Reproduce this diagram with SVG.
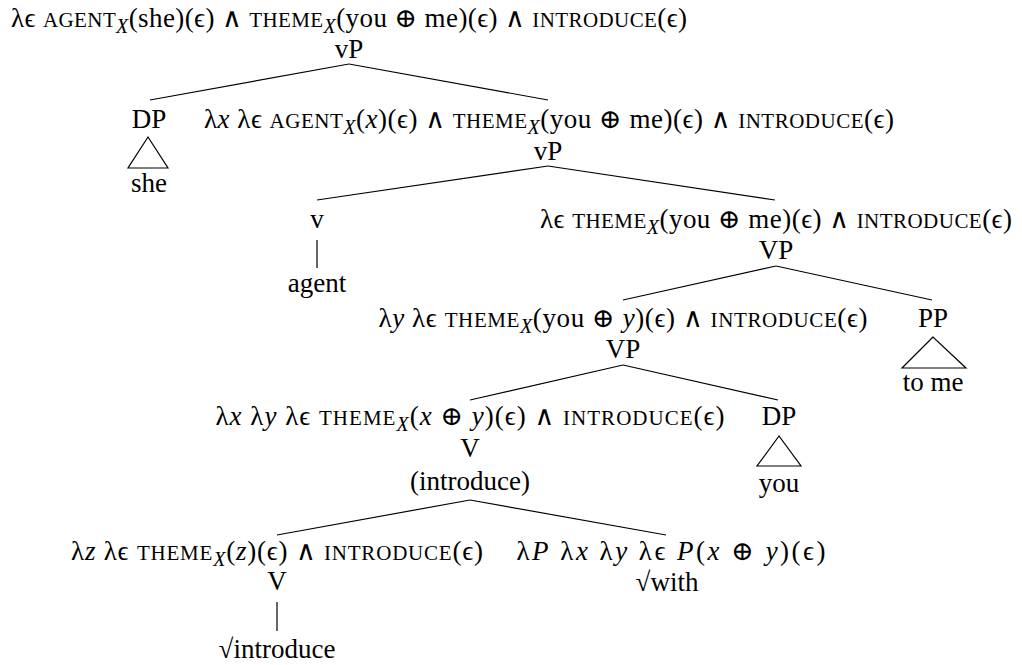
<svg xmlns="http://www.w3.org/2000/svg" width="1022" height="665" viewBox="0 0 1022 665">
<style>
text{font-size:27px;fill:#000;text-anchor:middle}
.sc{font-size:21px}
.sub{font-size:20px;font-style:italic}
.i{font-style:italic}
line,polygon{stroke:#000;stroke-width:1.2;fill:none}
</style>
<rect width="1022" height="665" fill="#fff"/>
<g id="connectors">
<line x1="349" y1="64" x2="150" y2="100"/>
<line x1="349" y1="64" x2="548" y2="100"/>
<line x1="548" y1="166" x2="317" y2="200"/>
<line x1="548" y1="166" x2="775" y2="200"/>
<line x1="317" y1="240" x2="317" y2="268"/>
<line x1="776" y1="266" x2="623" y2="300"/>
<line x1="776" y1="266" x2="932" y2="300"/>
<line x1="623" y1="365" x2="470" y2="400"/>
<line x1="623" y1="365" x2="778" y2="400"/>
<line x1="470" y1="500" x2="277" y2="535"/>
<line x1="470" y1="500" x2="666" y2="535"/>
<line x1="277" y1="602" x2="277" y2="631"/>
</g>
<g font-family="Liberation Serif, DejaVu Serif, serif">
<g id="n-root">
<text x="349" y="27" textLength="676" lengthAdjust="spacing">λϵ <tspan class="sc">AGENT</tspan><tspan class="sub" dy="6">X</tspan><tspan dy="-6">(she)(ϵ) ∧ </tspan><tspan class="sc">THEME</tspan><tspan class="sub" dy="6">X</tspan><tspan dy="-6">(you ⊕ me)(ϵ) ∧ </tspan><tspan class="sc">INTRODUCE</tspan>(ϵ)</text>
<text x="349" y="58">vP</text>
</g>
<g id="n-dp-she">
<text x="149" y="128">DP</text>
<polygon points="148,137 128,168 168,168"/>
<text x="149" y="192">she</text>
</g>
<g id="n-vbar">
<text x="549" y="128" textLength="690" lengthAdjust="spacing">λ<tspan class="i">x</tspan> λϵ <tspan class="sc">AGENT</tspan><tspan class="sub" dy="6">X</tspan><tspan dy="-6">(</tspan><tspan class="i">x</tspan>)(ϵ) ∧ <tspan class="sc">THEME</tspan><tspan class="sub" dy="6">X</tspan><tspan dy="-6">(you ⊕ me)(ϵ) ∧ </tspan><tspan class="sc">INTRODUCE</tspan>(ϵ)</text>
<text x="548" y="160">vP</text>
</g>
<g id="n-v">
<text x="317" y="228">v</text>
<text x="317" y="292">agent</text>
</g>
<g id="n-VP1">
<text x="776" y="228" textLength="472" lengthAdjust="spacing">λϵ <tspan class="sc">THEME</tspan><tspan class="sub" dy="6">X</tspan><tspan dy="-6">(you ⊕ me)(ϵ) ∧ </tspan><tspan class="sc">INTRODUCE</tspan>(ϵ)</text>
<text x="776" y="259">VP</text>
</g>
<g id="n-VP2">
<text x="623" y="327" textLength="489" lengthAdjust="spacing">λ<tspan class="i">y</tspan> λϵ <tspan class="sc">THEME</tspan><tspan class="sub" dy="6">X</tspan><tspan dy="-6">(you ⊕ </tspan><tspan class="i">y</tspan>)(ϵ) ∧ <tspan class="sc">INTRODUCE</tspan>(ϵ)</text>
<text x="623" y="358">VP</text>
</g>
<g id="n-pp">
<text x="933" y="327">PP</text>
<polygon points="933,337 902,368 966,368"/>
<text x="933" y="391">to me</text>
</g>
<g id="n-V1">
<text x="470" y="425" textLength="509" lengthAdjust="spacing">λ<tspan class="i">x</tspan> λ<tspan class="i">y</tspan> λϵ <tspan class="sc">THEME</tspan><tspan class="sub" dy="6">X</tspan><tspan dy="-6">(</tspan><tspan class="i">x</tspan> ⊕  <tspan class="i">y</tspan>)(ϵ) ∧ <tspan class="sc">INTRODUCE</tspan>(ϵ)</text>
<text x="470" y="457">V</text>
<text x="470" y="490">(introduce)</text>
</g>
<g id="n-dp-you">
<text x="779" y="425">DP</text>
<polygon points="779,436 757,466 801,466"/>
<text x="779" y="492">you</text>
</g>
<g id="n-V2">
<text x="277" y="560" textLength="412" lengthAdjust="spacing">λ<tspan class="i">z</tspan> λϵ <tspan class="sc">THEME</tspan><tspan class="sub" dy="6">X</tspan><tspan dy="-6">(</tspan><tspan class="i">z</tspan>)(ϵ) ∧ <tspan class="sc">INTRODUCE</tspan>(ϵ)</text>
<text x="277" y="590">V</text>
<text x="277" y="658">√introduce</text>
</g>
<g id="n-with">
<text x="671" y="560" textLength="309" lengthAdjust="spacing">λ<tspan class="i">P</tspan> λ<tspan class="i">x</tspan> λ<tspan class="i">y</tspan> λϵ <tspan class="i">P</tspan>(<tspan class="i">x</tspan> ⊕  <tspan class="i">y</tspan>)(ϵ)</text>
<text x="667" y="591">√with</text>
</g>
</g>
</svg>
